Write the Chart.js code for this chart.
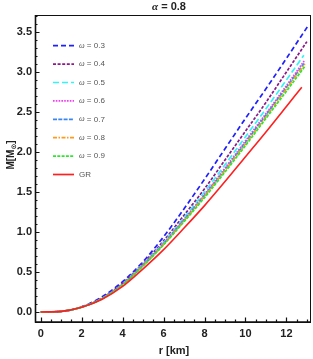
<!DOCTYPE html>
<html>
<head>
<meta charset="utf-8">
<script src="https://cdn.jsdelivr.net/npm/chart.js@4.4.0/dist/chart.umd.min.js"></script>
<style>
  html, body { margin: 0; padding: 0; background: #fff; }
  #wrap { width: 313px; height: 359px; }
</style>
</head>
<body>
<div id="wrap"><canvas id="massChart" width="313" height="359"></canvas></div>
<script>
// radius grid (km), shared by every curve; each curve then has its own end point
const rGrid = [0, 1, 2, 3, 4, 5, 6, 7, 8, 9, 10, 11, 12];
const rLast = [13.05, 13.0, 12.85, 12.9, 12.9, 12.9, 12.9, 12.75];

const seriesLabels = ['0.3', '0.4', '0.5', '0.6', '0.7', '0.8', '0.9', 'GR'];

// M [M_sun]
const mW03 = [0, 0.008, 0.065, 0.19, 0.38, 0.63, 0.94, 1.29, 1.66, 2.04, 2.42, 2.79, 3.17, 3.575];
const mW04 = [0, 0.008, 0.063, 0.175, 0.36, 0.61, 0.89, 1.21, 1.54, 1.90, 2.26, 2.62, 3.00, 3.38];
const mW05 = [0, 0.008, 0.062, 0.17, 0.35, 0.60, 0.87, 1.18, 1.50, 1.84, 2.19, 2.54, 2.90, 3.21];
const mW06 = [0, 0.008, 0.062, 0.17, 0.35, 0.59, 0.86, 1.16, 1.47, 1.80, 2.14, 2.48, 2.83, 3.15];
const mW07 = [0, 0.008, 0.061, 0.17, 0.345, 0.585, 0.85, 1.15, 1.46, 1.78, 2.12, 2.46, 2.81, 3.12];
const mW08 = [0, 0.008, 0.061, 0.168, 0.34, 0.58, 0.845, 1.14, 1.45, 1.77, 2.10, 2.44, 2.79, 3.10];
const mW09 = [0, 0.008, 0.061, 0.166, 0.34, 0.575, 0.84, 1.13, 1.43, 1.75, 2.08, 2.42, 2.76, 3.07];
const mGR  = [0, 0.008, 0.06, 0.16, 0.32, 0.54, 0.78, 1.05, 1.33, 1.63, 1.94, 2.25, 2.57, 2.81];

const xTicks = [0, 2, 4, 6, 8, 10, 12];
const yTicks = [0, 0.5, 1, 1.5, 2, 2.5, 3, 3.5];

const allSeries = [mW03, mW04, mW05, mW06, mW07, mW08, mW09, mGR];
const colors = ['#1f1fff', '#8a1a8a', '#33f5f5', '#f53af5', '#3a86f0', '#ff9a1a', '#2ee62e', '#ff1f1f'];
const dashes = [[5, 3], [3, 1.6], [6, 3], [1.6, 1.2], [4, 1.3], [4, 1.5, 1.5, 1.5], [3, 1.3], []];

function toPoints(arr, i) {
    const xs = rGrid.concat([rLast[i]]);
    return arr.map((m, k) => ({ x: xs[k], y: m }));
}

const datasets = allSeries.map((arr, i) => ({
    label: seriesLabels[i],
    data: toPoints(arr, i),
    borderColor: colors[i],
    borderDash: dashes[i],
    borderWidth: i === 7 ? 1.6 : 1.7,
    pointRadius: 0,
    fill: false,
    cubicInterpolationMode: 'monotone',
    order: i === 7 ? 0 : 8 - i
}));

// frame, inward ticks, legend and titles
const decorPlugin = {
    id: 'decor',
    afterDraw(chart) {
        const ctx = chart.ctx;
        const a = chart.chartArea;
        const xs = chart.scales.x, ys = chart.scales.y;
        ctx.save();

        ctx.strokeStyle = '#111';
        ctx.lineWidth = 1;
        ctx.strokeRect(a.left + 0.5, a.top + 0.5, a.right - a.left - 1, a.bottom - a.top);
        ctx.lineWidth = 1.6;
        ctx.beginPath();
        ctx.moveTo(a.left + 0.5, a.top);
        ctx.lineTo(a.left + 0.5, a.bottom);
        ctx.lineTo(a.right, a.bottom);
        ctx.stroke();

        ctx.lineWidth = 1.2;
        ctx.beginPath();
        for (let v = 0; v <= 13.01; v += 0.5) {
            const px = Math.round(xs.getPixelForValue(v)) + 0.5;
            const len = Math.abs(v % 2) < 1e-6 ? 4.5 : 2.5;
            ctx.moveTo(px, a.bottom);
            ctx.lineTo(px, a.bottom - len);
        }
        for (let k = 0; k <= 37; k++) {
            const v = k / 10;
            const py = Math.round(ys.getPixelForValue(v)) + 0.5;
            const len = k % 5 === 0 ? 4.5 : 2.5;
            ctx.moveTo(a.left, py);
            ctx.lineTo(a.left + len, py);
        }
        ctx.stroke();

        // legend
        const ly0 = 45.7, lstep = 18.4;
        chart.data.datasets.forEach((ds, i) => {
            const y = ly0 + i * lstep;
            ctx.strokeStyle = ds.borderColor;
            ctx.lineWidth = 1.7;
            ctx.setLineDash(ds.borderDash);
            ctx.beginPath();
            ctx.moveTo(53, y);
            ctx.lineTo(74, y);
            ctx.stroke();
            ctx.setLineDash([]);
            ctx.fillStyle = '#555';
            ctx.textBaseline = 'middle';
            ctx.textAlign = 'left';
            if (ds.label === 'GR') {
                ctx.font = '8px "Liberation Sans", Arial, sans-serif';
                ctx.fillText('GR', 79, y);
            } else {
                ctx.font = 'italic 8px "Liberation Serif", serif';
                ctx.fillText('\u03c9', 79, y);
                const w = ctx.measureText('\u03c9').width;
                ctx.font = '8px "Liberation Sans", Arial, sans-serif';
                ctx.fillText(' = ' + ds.label, 79 + w, y);
            }
        });

        // title
        ctx.fillStyle = '#222';
        ctx.textBaseline = 'middle';
        ctx.textAlign = 'left';
        ctx.font = 'italic bold 11px "Liberation Serif", serif';
        const wa = ctx.measureText('\u03b1').width;
        ctx.font = 'bold 11px "Liberation Sans", Arial, sans-serif';
        const rest = ' = 0.8';
        const wr = ctx.measureText(rest).width;
        const tx = 169 - (wa + wr) / 2;
        ctx.font = 'italic bold 11px "Liberation Serif", serif';
        ctx.fillText('\u03b1', tx, 7);
        ctx.font = 'bold 11px "Liberation Sans", Arial, sans-serif';
        ctx.fillText(rest, tx + wa, 7);

        // x title
        ctx.textAlign = 'center';
        ctx.fillText('r [km]', 174, 351);

        // y title with subscript sun symbol
        ctx.save();
        ctx.translate(11, 155);
        ctx.rotate(-Math.PI / 2);
        ctx.textAlign = 'left';
        const f1 = 'bold 10px "Liberation Sans", Arial, sans-serif';
        const f2 = 'bold 7px "DejaVu Sans", sans-serif';
        ctx.font = f1;
        const w1 = ctx.measureText('M[M').width;
        const w3 = ctx.measureText(']').width;
        ctx.font = f2;
        const w2 = ctx.measureText('\u2299').width;
        let sx = -(w1 + w2 + w3) / 2;
        ctx.font = f1;
        ctx.fillText('M[M', sx, 0);
        ctx.font = f2;
        ctx.fillText('\u2299', sx + w1, 3);
        ctx.font = f1;
        ctx.fillText(']', sx + w1 + w2, 0);
        ctx.restore();

        ctx.restore();
    }
};

new Chart(document.getElementById('massChart').getContext('2d'), {
    type: 'line',
    data: { datasets: datasets },
    options: {
        responsive: false,
        animation: false,
        events: [],
        layout: { padding: { top: 15, right: 2, left: 0, bottom: 0 } },
        plugins: {
            legend: { display: false },
            tooltip: { enabled: false },
            title: { display: false }
        },
        scales: {
            x: {
                type: 'linear',
                min: -0.28,
                max: 13.2,
                grid: { display: false, drawTicks: false },
                border: { display: false },
                afterBuildTicks: (s) => { s.ticks = xTicks.map(v => ({ value: v })); },
                afterFit: (s) => { s.height = 37; },
                ticks: {
                    padding: 5,
                    maxRotation: 0,
                    autoSkip: false,
                    color: '#222',
                    font: { family: '"Liberation Sans", Arial, sans-serif', size: 11, weight: 'bold' }
                }
            },
            y: {
                type: 'linear',
                min: -0.125,
                max: 3.7125,
                grid: { display: false, drawTicks: false },
                border: { display: false },
                afterBuildTicks: (s) => { s.ticks = yTicks.map(v => ({ value: v })); },
                afterFit: (s) => { s.width = 35; },
                ticks: {
                    padding: 3,
                    autoSkip: false,
                    color: '#222',
                    callback: (v) => Number(v).toFixed(1),
                    font: { family: '"Liberation Sans", Arial, sans-serif', size: 11, weight: 'bold' }
                }
            }
        }
    },
    plugins: [decorPlugin]
});
</script>
</body>
</html>
